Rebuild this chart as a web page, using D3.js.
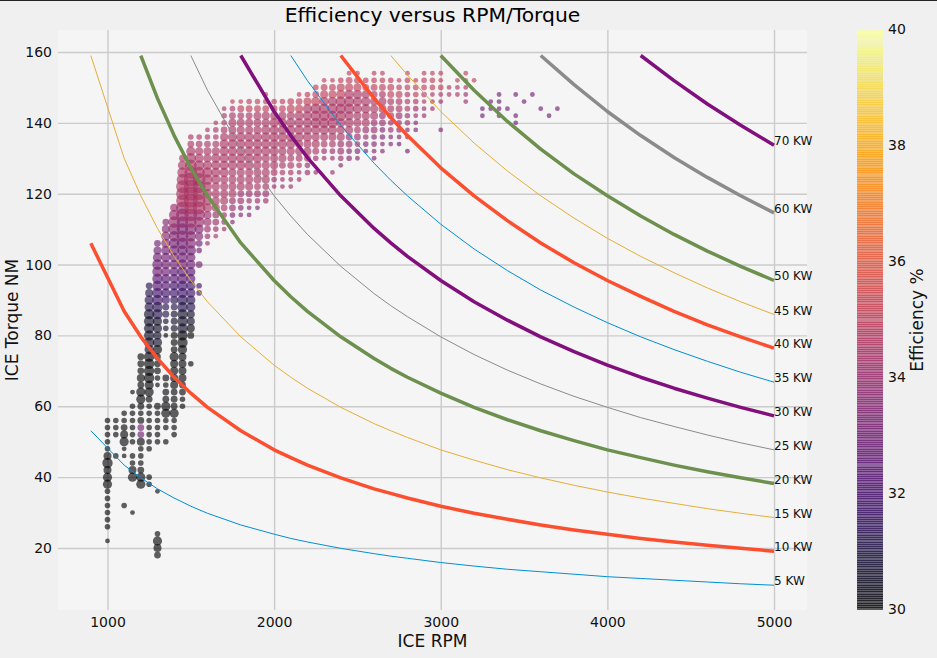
<!DOCTYPE html>
<html>
<head>
<meta charset="utf-8">
<script src="https://cdn.jsdelivr.net/npm/d3@7"></script>
<style>
    html, body { margin: 0; padding: 0; background: #f0f0f0; }
    svg { display: block; font-family: "DejaVu Sans", sans-serif; }
</style>
</head>
<body>
<div id="chart"></div>
<script>
// axis ticks
var rpmTicks = [1000, 2000, 3000, 4000, 5000];
var torqueTicks = [20, 40, 60, 80, 100, 120, 140, 160];
var effTicks = [30, 32, 34, 36, 38, 40];

// rpm grid the power curves were read at; each curve starts at its own index
var curveRpm = [900, 1100, 1200, 1300, 1400, 1500, 1600, 1800, 2000, 2100, 2200, 2400, 2600, 2700, 2800, 3000, 3200, 3400, 3600, 3800, 4000, 4200, 4400, 4600, 4800, 5000];
var curveStart = [900, 900, 900, 1200, 1500, 1800, 2100, 2400, 2700, 3000, 3600, 4200];
var curveLabels = ["5 KW", "10 KW", "15 KW", "20 KW", "25 KW", "30 KW", "35 KW", "40 KW", "45 KW", "50 KW", "60 KW", "70 KW"];
var curveTorque = [
    [53.1, 43.4, 39.8, 36.7, 34.1, 31.8, 29.8, 26.5, 23.9, 22.7, 21.7, 19.9, 18.4, 17.7, 17.1, 15.9, 14.9, 14, 13.3, 12.6, 11.9, 11.4, 10.9, 10.4, 9.9, 9.5],
    [106, 86.8, 79.6, 73.5, 68.2, 63.7, 59.7, 53.1, 47.7, 45.5, 43.4, 39.8, 36.7, 35.4, 34.1, 31.8, 29.8, 28.1, 26.5, 25.1, 23.9, 22.7, 21.7, 20.8, 19.9, 19.1],
    [159, 130, 119.4, 110.2, 102.3, 95.5, 89.5, 79.6, 71.6, 68.2, 65.1, 59.7, 55.1, 53.1, 51.2, 47.7, 44.8, 42.1, 39.8, 37.7, 35.8, 34.1, 32.6, 31.1, 29.8, 28.6],
    [159, 146.9, 136.4, 127.3, 119.4, 106.1, 95.5, 90.9, 86.8, 79.6, 73.5, 70.7, 68.2, 63.7, 59.7, 56.2, 53.1, 50.3, 47.7, 45.5, 43.4, 41.5, 39.8, 38.2],
    [159, 149.2, 132.6, 119.4, 113.7, 108.5, 99.5, 91.8, 88.4, 85.3, 79.6, 74.6, 70.2, 66.3, 62.8, 59.7, 56.8, 54.3, 51.9, 49.7, 47.7],
    [159, 143.2, 136.4, 130.2, 119.4, 110.2, 106.1, 102.3, 95.5, 89.5, 84.3, 79.6, 75.4, 71.6, 68.2, 65.1, 62.3, 59.7, 57.3],
    [159, 151.9, 139.3, 128.6, 123.8, 119.4, 111.4, 104.4, 98.3, 92.8, 88, 83.6, 79.6, 76, 72.7, 69.6, 66.8],
    [159, 146.9, 141.5, 136.4, 127.3, 119.4, 112.4, 106.1, 100.5, 95.5, 91, 86.8, 83, 79.6, 76.4],
    [159, 153.5, 143.2, 134.3, 126.4, 119.4, 113.1, 107.4, 102.3, 97.7, 93.4, 89.5, 85.9],
    [159, 149.2, 140.4, 132.6, 125.6, 119.4, 113.7, 108.5, 103.8, 99.5, 95.5],
    [159, 150.8, 143.2, 136.4, 130.2, 124.6, 119.4, 114.6],
    [159, 151.9, 145.3, 139.3, 133.7]
];
var curveColor = ["#008fd5", "#fc4f30", "#e5ae38", "#6d904f", "#8b8b8b", "#810f7c", "#008fd5", "#fc4f30", "#e5ae38", "#6d904f", "#8b8b8b", "#810f7c"];
var curveWidth = [1, 3.5, 1, 3.5, 1, 3.5, 1, 3.5, 1, 3.5, 3.5, 3.5];

// scatter columns: one rpm each, torque climbs in 2 Nm steps from scatterLow.
// scatterSize: a digit per step, 0 = no point. scatterEff: a digit per step, index into effLevels,
// a short string just keeps its last digit for the rest of the column
var effLevels = [30, 30.6, 31.2, 31.8, 32.4, 33, 33.5, 34.1, 34.5, 35];
var scatterRpm = [1000, 1050, 1100, 1150, 1200, 1250, 1300, 1350, 1400, 1450, 1500, 1550, 1600, 1650, 1700, 1750, 1800, 1850, 1900, 1950,
    2000, 2050, 2100, 2150, 2200, 2250, 2300, 2350, 2400, 2450, 2500, 2550, 2600, 2650, 2700, 2750, 2800, 2850, 2900, 2950,
    3000, 3050, 3100, 3150, 3200, 3250, 3300, 3350, 3400, 3450, 3500, 3550, 3600, 3650, 3700];
var scatterLow = [22, 46, 32, 30, 38, 38, 18, 50, 52, 60, 72, 92, 106, 108, 110, 112, 114, 114, 116, 118,
    122, 122, 122, 124, 126, 126, 130, 126, 128, 130, 130, 132, 130, 132, 134, 134, 132, 138, 142, 144,
    138, 148, 148, 146, 152, 142, 144, 142, 144, 140, 146, 148, 144, 142, 144];
var scatterSize = [
    "102222225546422222", "200222", "20000001154322", "100005422022222201", "5532224333235534333",
    "22000222222235566665666665543", "345200000100000022222300123335545566666666543",
    "20225533230000012233455555555543", "222533344445333333345555556667764",
    "223344445666666666666667777888887653", "200034445555555566677889999876532", "22003023456788888765432",
    "12344555566544321", "12334444555543221", "122344445555543221", "123344445555544321", "12334445555544331",
    "11234445555544332", "1233444555544432", "2334444555544321", "1234455555432", "1123445555432", "1123345555443",
    "1123445555431", "223445555542", "1023445666532", "123456665431", "10123456665431", "1233445666542",
    "2233455665431", "1223344555431", "12234455432", "1122334443321", "112233443321", "1122333332", "1122333321",
    "101122222221", "11122221", "1112221", "111221", "100011211", "11", "111", "11111", "1", "11", "11", "1111",
    "1", "11001", "1", "1", "1", "1", "1"
];
var scatterEff = [
    "0", "0", "0", "0", "000000055" + "0",
    "0000000000000000000111111" + "2", "000000000000000000000000000000" + "1111223344" + "5",
    "00000000000000001122334455556", "000000000000000111223344555566" + "7", "000000000001112233445555666778",
    "00000011223344555666778", "334455556677" + "8", "777778", "87778", "7778", "667788888888888889", "66778888888888899",
    "66778888888888899", "6778888888888899", "7788888888888999", "7788888888899", "7788888888899", "7788888888899",
    "7788888888999", "778888888899", "7778888888999", "778888888999", "77778888888999", "6777888888999",
    "6677888888999", "6677888888999", "66778888899", "6666778888999", "666677888999", "6677888999", "5667788999",
    "566677888999", "66778999", "7788999", "778999", "666678999", "8", "889", "77899", "9", "5", "5", "5",
    "5", "5", "5", "5", "5", "5", "5"
];

var width = 937, height = 658;
var plot = {left: 58, right: 807, top: 30, bottom: 610};
var bar = {left: 857, right: 883};
var pointAlpha = 0.62;

var svg = d3.select("#chart").append("svg")
    .attr("width", width)
    .attr("height", height);

svg.append("rect").attr("width", width).attr("height", height).attr("fill", "#f0f0f0");
svg.append("rect").attr("width", width).attr("height", 1).attr("fill", "#222");

// scales
var x = d3.scaleLinear().domain([703, 5198]).range([plot.left, plot.right]);
var y = d3.scaleLinear().domain([2.5, 166.2]).range([plot.bottom, plot.top]);
var radius = d3.scaleLinear().domain([1, 2, 9]).range([2.4, 2.8, 7]);
var effBar = d3.scaleLinear().domain([30, 40]).range([plot.bottom, plot.top]);
var effColor = d3.scaleSequential(d3.interpolateInferno).domain([30, 40]);

svg.append("rect")
    .attr("x", plot.left)
    .attr("y", plot.top)
    .attr("width", plot.right - plot.left)
    .attr("height", plot.bottom - plot.top)
    .attr("fill", "#f5f5f5");

// axes double as the grid
var xAxis = svg.append("g")
    .attr("transform", "translate(0," + plot.bottom + ")")
    .call(d3.axisBottom(x).tickValues(rpmTicks).tickFormat(d3.format("d")).tickSize(plot.top - plot.bottom).tickPadding(7));
var yAxis = svg.append("g")
    .attr("transform", "translate(" + plot.left + ",0)")
    .call(d3.axisLeft(y).tickValues(torqueTicks).tickSize(plot.left - plot.right).tickPadding(6));

[xAxis, yAxis].forEach(function (axis) {
    axis.select(".domain").remove();
    axis.selectAll("line").attr("stroke", "#cbcbcb").attr("stroke-width", 1.4);
    axis.selectAll("text").attr("font-size", 14).attr("fill", "#111").attr("font-family", "DejaVu Sans");
});

// flatten the scatter columns into points
var points = [];
scatterRpm.forEach(function (rpm, col) {
    var sizes = scatterSize[col], effs = scatterEff[col];
    for (var i = 0; i < sizes.length; i++) {
        if (sizes[i] === "0") continue;
        var digit = i < effs.length ? effs[i] : effs[effs.length - 1];
        points.push({rpm: rpm, torque: scatterLow[col] + 2 * i, size: +sizes[i], eff: effLevels[+digit]});
    }
});

svg.append("g").selectAll("circle")
    .data(points)
    .enter().append("circle")
        .attr("cx", function (d) { return x(d.rpm); })
        .attr("cy", function (d) { return y(d.torque); })
        .attr("r", function (d) { return radius(d.size); })
        .attr("fill", function (d) { return effColor(d.eff); })
        .attr("fill-opacity", pointAlpha);

// power curves
var line = d3.line()
    .x(function (d) { return x(d.rpm); })
    .y(function (d) { return y(d.torque); });

curveTorque.forEach(function (torque, c) {
    var first = curveRpm.indexOf(curveStart[c]);
    var pts = torque.map(function (t, i) { return {rpm: curveRpm[first + i], torque: t}; });
    svg.append("path")
        .attr("d", line(pts))
        .attr("fill", "none")
        .attr("stroke", curveColor[c])
        .attr("stroke-width", curveWidth[c])
        .attr("stroke-linejoin", "round");
    svg.append("text")
        .attr("x", x(5000))
        .attr("y", y(torque[torque.length - 1]))
        .attr("font-size", 12)
        .attr("fill", "#111")
        .text(curveLabels[c]);
});

// colorbar, stacked translucent bands overlap a little and give the stripes
var levels = d3.range(0, 256);
svg.append("g").selectAll("rect")
    .data(levels)
    .enter().append("rect")
        .attr("x", bar.left)
        .attr("width", bar.right - bar.left)
        .attr("y", function (d) { return Math.floor(effBar(30 + (d + 1) * 10 / 256)); })
        .attr("height", function (d) {
            return Math.ceil(effBar(30 + d * 10 / 256)) - Math.floor(effBar(30 + (d + 1) * 10 / 256));
        })
        .attr("shape-rendering", "crispEdges")
        .attr("fill", function (d) { return effColor(30 + d * 10 / 255); })
        .attr("fill-opacity", pointAlpha);

var effAxis = svg.append("g")
    .attr("transform", "translate(" + bar.right + ",-1)")
    .call(d3.axisRight(effBar).tickValues(effTicks).tickSize(0).tickPadding(5));
effAxis.select(".domain").remove();
effAxis.selectAll("text").attr("font-size", 14).attr("fill", "#111").attr("font-family", "DejaVu Sans");

// titles
svg.append("text")
    .attr("x", (plot.left + plot.right) / 2)
    .attr("y", 22)
    .attr("text-anchor", "middle")
    .attr("font-size", 20.3)
    .attr("fill", "#000")
    .text("Efficiency versus RPM/Torque");
svg.append("text")
    .attr("x", (plot.left + plot.right) / 2)
    .attr("y", 647)
    .attr("text-anchor", "middle")
    .attr("font-size", 17)
    .attr("fill", "#111")
    .text("ICE RPM");
svg.append("text")
    .attr("transform", "translate(18,320) rotate(-90)")
    .attr("text-anchor", "middle")
    .attr("font-size", 17)
    .attr("fill", "#111")
    .text("ICE Torque NM");
svg.append("text")
    .attr("transform", "translate(923,320) rotate(-90)")
    .attr("text-anchor", "middle")
    .attr("font-size", 17)
    .attr("fill", "#111")
    .text("Efficiency %");
</script>
</body>
</html>
